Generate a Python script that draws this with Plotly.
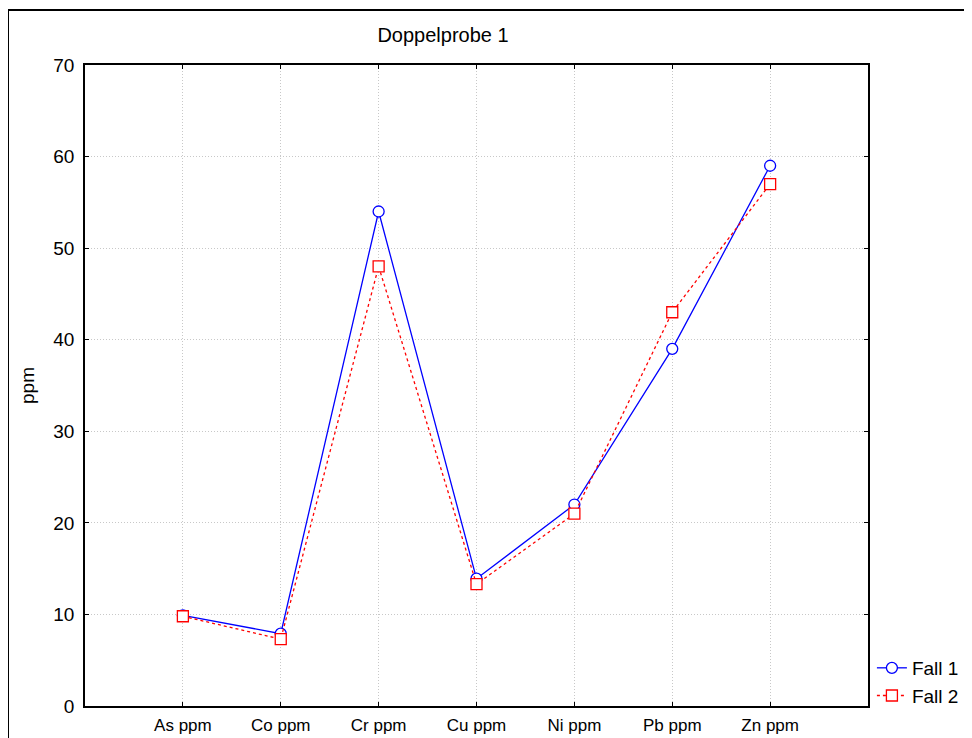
import plotly.graph_objects as go

categories = ["As ppm", "Co ppm", "Cr ppm", "Cu ppm", "Ni ppm", "Pb ppm", "Zn ppm"]
fall1 = [9.9, 7.9, 54.0, 13.9, 22.0, 39.0, 59.0]
fall2 = [9.8, 7.3, 48.0, 13.3, 21.0, 43.0, 57.0]
y_ticks = [0, 10, 20, 30, 40, 50, 60, 70]

FONT = "Liberation Sans, Arial, sans-serif"

fig = go.Figure()
fig.add_trace(go.Scatter(
    x=categories, y=fall1, name="Fall 1", mode="lines+markers",
    line=dict(color="#0000ff", width=1.3),
    marker=dict(symbol="circle", size=11, color="white",
                line=dict(color="#0000ff", width=1.3)),
))
fig.add_trace(go.Scatter(
    x=categories, y=fall2, name="Fall 2", mode="lines+markers",
    line=dict(color="#ff0000", width=1.3, dash="dot"),
    marker=dict(symbol="square", size=11, color="white",
                line=dict(color="#ff0000", width=1.3)),
))

fig.update_layout(
    width=972, height=738,
    margin=dict(l=77, r=112, t=57, b=40),
    paper_bgcolor="white", plot_bgcolor="white",
    font=dict(family=FONT, color="black"),
    title=dict(text="Doppelprobe 1", x=435/972, xanchor="center",
               y=1-27/738, yanchor="middle", xref="container", yref="container",
               font=dict(size=20, family=FONT, color="black")),
    showlegend=True,
    legend=dict(x=1.005, y=-0.014, xanchor="left", yanchor="bottom",
                font=dict(size=19, family=FONT), bgcolor="rgba(0,0,0,0)",
                itemwidth=30, tracegroupgap=0),
    xaxis=dict(
        type="category", categoryorder="array", categoryarray=categories,
        range=[-1, 7], showline=True, linecolor="black", linewidth=1.5, mirror="ticks",
        ticks="inside", ticklen=4, tickcolor="black",
        showgrid=True, gridcolor="#c8c8c8", griddash="1px,2px", gridwidth=1,
        tickfont=dict(size=17, family=FONT), zeroline=False, ticklabelstandoff=3,
    ),
    yaxis=dict(
        range=[0, 70], tickvals=y_ticks, showline=True, linecolor="black", linewidth=1.5,
        mirror="ticks", ticks="inside", ticklen=4, tickcolor="black",
        showgrid=True, gridcolor="#c8c8c8", griddash="1px,2px", gridwidth=1,
        tickfont=dict(size=19, family=FONT), zeroline=False, ticklabelstandoff=5,
        title=dict(text="ppm", font=dict(size=19, family=FONT), standoff=14),
    ),
    shapes=[dict(type="rect", xref="paper", yref="paper",
                 x0=(0-77)/783, x1=(990-77)/783, y0=(698-760)/641, y1=(698-2)/641,
                 line=dict(color="black", width=2), fillcolor="rgba(0,0,0,0)", layer="below")],
)

fig.write_html("out.html")
